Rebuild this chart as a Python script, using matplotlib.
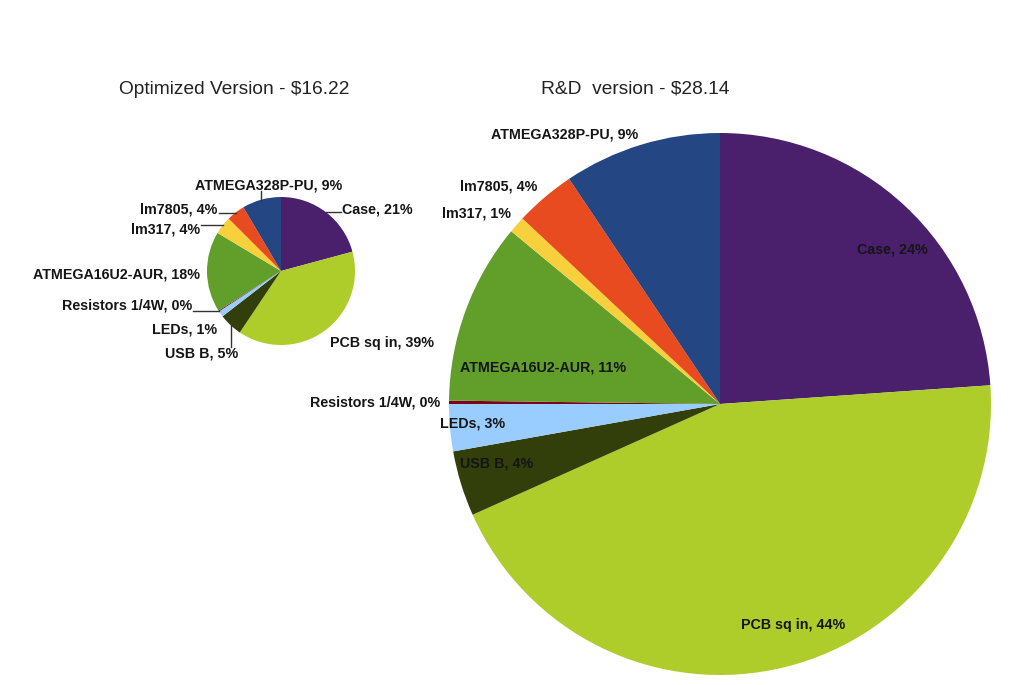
import numpy as np
import matplotlib.pyplot as plt

plt.rcParams['font.family'] = ['Liberation Sans', 'DejaVu Sans']

# slices, clockwise from 12 o'clock
parts = ['Case', 'PCB sq in', 'USB B', 'LEDs', 'Resistors 1/4W',
         'ATMEGA16U2-AUR', 'lm317', 'lm7805', 'ATMEGA328P-PU']
colors = ['#4a1f6c', '#afcd2a', '#323f0b', '#99ccff', '#7e0021',
          '#629f2a', '#f7d03c', '#e84b20', '#244683']

opt_share = [20.8, 38.6, 5.1, 1.3, 0.2, 17.6, 3.9, 4.0, 8.5]
opt_pct = [21, 39, 5, 1, 0, 18, 4, 4, 9]
rd_share = [23.9, 44.4, 3.9, 2.8, 0.2, 10.8, 1.0, 3.6, 9.4]
rd_pct = [24, 44, 4, 3, 0, 11, 1, 4, 9]

titles = ['Optimized Version - $16.22', 'R&D  version - $28.14']

W, H = 1024, 685

# label placement: (radius factor, angle offset from slice middle, ha, leader)
opt_lab = [(1.17, -7.6, 'left', 'h'), (1.18, -1.4, 'left', None),
           (1.54, -0.8, 'center', 'v'), (1.17, 6.8, 'right', None),
           (1.29, -11.8, 'right', 'h'), (1.10, 1.5, 'right', None),
           (1.23, 10.7, 'right', 'h'), (1.19, 8.2, 'right', 'h'),
           (1.17, -7.3, 'center', 'v')]
rd_lab = [(0.856, -5.1, 'center', None), (0.86, 4.3, 'center', None),
          (0.853, -2.1, 'center', None), (0.915, -0.6, 'center', None),
          (1.033, 0.0, 'right', None), (0.668, 8.4, 'center', None),
          (1.045, -1.0, 'right', None), (1.048, -0.4, 'right', None),
          (1.04, 0.0, 'right', None)]

pies = [
    dict(share=opt_share, pct=opt_pct, title=titles[0], center=(281, H - 271),
         r=74, title_xy=(234, H - 89), lab=opt_lab),
    dict(share=rd_share, pct=rd_pct, title=titles[1], center=(720, H - 404),
         r=271, title_xy=(635, H - 89), lab=rd_lab),
]

fig = plt.figure(figsize=(W / 100, H / 100), dpi=100)
ax = fig.add_axes([0, 0, 1, 1])

for p in pies:
    cx, cy = p['center']
    r = p['r']
    wedges, _ = ax.pie(p['share'], colors=colors, startangle=90,
                       counterclock=False, center=(cx, cy), radius=r,
                       wedgeprops=dict(linewidth=0), frame=True)
    for w, name, pc, (d, da, ha, lead) in zip(wedges, parts, p['pct'], p['lab']):
        mid = (w.theta1 + w.theta2) / 2
        a = np.radians(mid + da)
        tx, ty = cx + d * r * np.cos(a), cy + d * r * np.sin(a)
        ax.text(tx, ty, f'{name}, {pc}%', ha=ha, va='center', fontsize=10.3,
                fontweight='bold', color='#151515')
        ex = cx + r * np.cos(np.radians(mid))
        ey = cy + r * np.sin(np.radians(mid))
        if lead == 'h':
            x_end = tx + 1 if ha == 'right' else tx - 1
            ax.plot([ex, x_end], [ey, ey], color='#333333', lw=1)
        elif lead == 'v':
            y_end = ty + 6 if ey > ty else ty - 6
            ax.plot([ex, ex], [ey, y_end], color='#333333', lw=1)
    ax.text(p['title_xy'][0], p['title_xy'][1], p['title'], ha='center',
            va='center', fontsize=13.8, color='#222222')

ax.set_xlim(0, W)
ax.set_ylim(0, H)
ax.set_aspect('equal')
ax.axis('off')

fig.savefig('out.png', dpi=100)
